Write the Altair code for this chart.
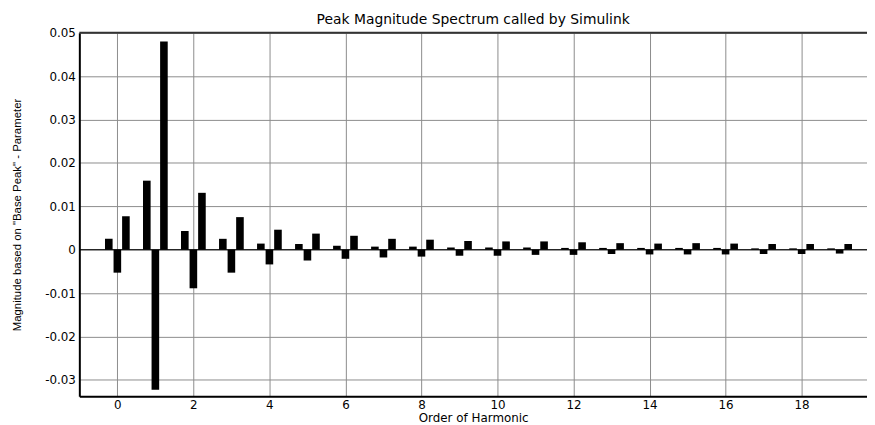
import altair as alt
import pandas as pd

# ---- data ----
harmonics = list(range(20))
offsets = [-0.225, 0.0, 0.225]
series_a = [0.0025, 0.0159, 0.0043, 0.0025, 0.0014, 0.0013, 0.0009, 0.0007, 0.0007, 0.0005,
            0.0005, 0.0005, 0.0004, 0.0004, 0.0004, 0.0004, 0.0004, 0.0003, 0.0003, 0.0003]
series_b = [-0.0053, -0.0323, -0.0089, -0.0053, -0.0034, -0.0025, -0.0021, -0.0018, -0.0016, -0.0014,
            -0.0014, -0.0012, -0.0012, -0.0010, -0.0011, -0.0011, -0.0011, -0.0010, -0.0010, -0.0009]
series_c = [0.0077, 0.0480, 0.0131, 0.0075, 0.0046, 0.0037, 0.0032, 0.0025, 0.0023, 0.0020,
            0.0019, 0.0019, 0.0017, 0.0015, 0.0014, 0.0015, 0.0014, 0.0013, 0.0013, 0.0013]
x_ticks = [0, 2, 4, 6, 8, 10, 12, 14, 16, 18]
y_ticks = [-0.03, -0.02, -0.01, 0, 0.01, 0.02, 0.03, 0.04, 0.05]
bar_width = 0.2

rows = []
for s_idx, series in enumerate([series_a, series_b, series_c]):
    for h, v in zip(harmonics, series):
        rows.append({"harmonic": h, "offset": offsets[s_idx], "value": v})
df = pd.DataFrame(rows)

x_scale = alt.Scale(domain=[-1, 19.72], nice=False, zero=False)
y_scale = alt.Scale(domain=[-0.0338, 0.05], nice=False, zero=False)

FONT = "DejaVu Sans"
GRID = "#8c8c8c"

x_axis = alt.Axis(values=x_ticks, format="d", grid=True, gridColor=GRID, gridWidth=1,
                  ticks=False, domainColor="black", domainWidth=2,
                  labelFont=FONT, labelFontSize=12, labelColor="black", labelPadding=3,
                  title="Order of Harmonic", titleFont=FONT, titleFontSize=12,
                  titleFontWeight="normal", titleColor="black", titlePadding=2)

y_axis = alt.Axis(values=y_ticks, grid=True, gridColor=GRID, gridWidth=1,
                  ticks=False, domainColor="black", domainWidth=2,
                  labelExpr="datum.value == 0 ? '0' : (datum.value < 0 ? '-' + format(-datum.value, '.2f') : format(datum.value, '.2f'))",
                  labelFont=FONT, labelFontSize=12, labelColor="black", labelPadding=4,
                  title='Magnitude based on "Base Peak" - Parameter',
                  titleFont="Liberation Sans", titleFontSize=11.5, titleFontWeight="normal",
                  titleColor="black", titleX=-59.5, titleY=183.5, titleAngle=270,
                  titleAlign="center", titleBaseline="alphabetic")

bars = alt.Chart(df).transform_calculate(
    x0=f"datum.harmonic + datum.offset - {bar_width / 2}",
    x1=f"datum.harmonic + datum.offset + {bar_width / 2}",
).mark_bar(color="black").encode(
    x=alt.X("x0:Q", scale=x_scale, axis=x_axis),
    x2="x1:Q",
    y=alt.Y("value:Q", scale=y_scale, axis=y_axis),
    y2=alt.datum(0),
)

zero_line = alt.Chart(pd.DataFrame({"v": [0]})).mark_rule(color="black", strokeWidth=1).encode(
    y=alt.Y("v:Q", scale=y_scale)
)

top_border = alt.Chart(pd.DataFrame({"v": [0]})).mark_rule(color="#333333", strokeWidth=2).encode(
    y=alt.value(0)
)

chart = alt.layer(bars, zero_line, top_border).properties(
    width=795,
    height=367,
    title=alt.TitleParams("Peak Magnitude Spectrum called by Simulink", font=FONT, fontSize=14,
                          fontWeight="normal", color="black", anchor="middle", offset=0),
    autosize=alt.AutoSizeParams(type="none"),
    padding={"left": 72, "top": 23, "right": 0, "bottom": 27},
).configure_view(stroke=None).configure(background="white")

chart.save("out.html", embed_options={"renderer": "svg", "actions": False})
